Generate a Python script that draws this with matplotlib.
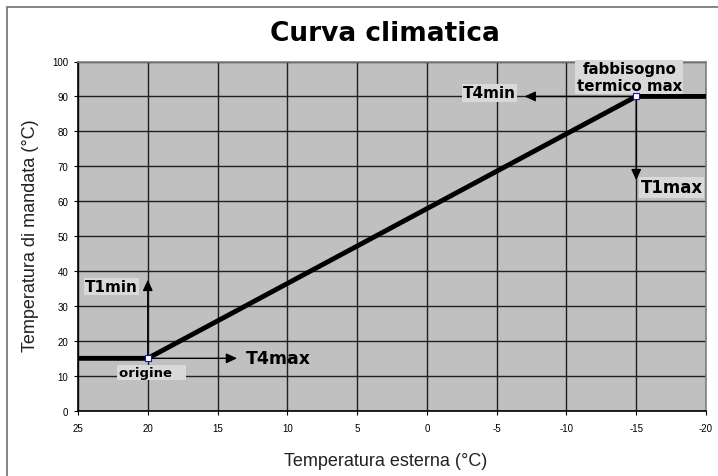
import matplotlib
matplotlib.use("Agg")
import matplotlib.pyplot as plt
from matplotlib.patches import Rectangle

# Climate curve: external temperature vs. supply temperature
curve_x = [25, 20, -15, -20]
curve_y = [15, 15, 90, 90]
corner_x = [20, -15]
corner_y = [15, 90]

# Reference arrows: (start_x, start_y, end_x, end_y)
arrow_t1min = (20, 15, 20, 37.5)
arrow_t4max = (20, 15, 13.6, 15)
arrow_t1max = (-15, 90, -15, 66)
arrow_t4min = (-15, 90, -7.0, 90)

x_ticks = [25, 20, 15, 10, 5, 0, -5, -10, -15, -20]
y_ticks = [0, 10, 20, 30, 40, 50, 60, 70, 80, 90, 100]

fig = plt.figure(figsize=(7.18, 4.77), dpi=100)
W, H = 718, 477

# outer frame
fig.patches.append(Rectangle((7 / W, -0.1), 1.2, (H - 8) / H + 0.1,
                             transform=fig.transFigure, fill=False,
                             edgecolor="#707070", linewidth=1.2))

ax = fig.add_axes([78 / W, (H - 411.7) / H, (706 - 78) / W, (411.7 - 62.5) / H])
ax.set_facecolor("#c0c0c0")
ax.set_xlim(25, -20)
ax.set_ylim(0, 100)
ax.set_xticks(x_ticks)
ax.set_yticks(y_ticks)
ax.set_xticklabels([str(v) for v in x_ticks], family="Liberation Sans")
ax.set_yticklabels([str(v) for v in y_ticks], family="Liberation Sans")
ax.tick_params(labelsize=7, length=3, width=0.8, pad=4, colors="black")
ax.tick_params(axis="x", pad=6)
ax.grid(True, color="#202020", linewidth=1.0)
ax.set_axisbelow(True)
for side in ("left", "bottom"):
    ax.spines[side].set_color("black")
    ax.spines[side].set_linewidth(1.2)
for side in ("right", "top"):
    ax.spines[side].set_color("#808080")
    ax.spines[side].set_linewidth(1.2)

ax.plot(curve_x, curve_y, color="black", linewidth=3.5, solid_capstyle="butt", zorder=4)
ax.plot(corner_x, corner_y, linestyle="none", marker="s", markersize=4,
        markerfacecolor="white", markeredgecolor="#1a1aa0", markeredgewidth=0.8, zorder=7)

for (x0, y0, x1, y1) in (arrow_t1min, arrow_t4max, arrow_t1max, arrow_t4min):
    ax.annotate("", xy=(x1, y1), xytext=(x0, y0),
                arrowprops=dict(arrowstyle="-|>,head_length=0.65,head_width=0.3",
                                color="black", linewidth=1.0, shrinkA=0, shrinkB=0),
                zorder=3)

box = dict(boxstyle="square,pad=0.08", facecolor="#d9d9d9", edgecolor="none")
lab = dict(fontweight="bold", color="black", zorder=6, family="DejaVu Sans")

ax.text(22.6, 35.6, "T1min", fontsize=11, ha="center", va="center", bbox=box, **lab)
ax.text(13.0, 15, "T4max", fontsize=12.5, ha="left", va="center", **lab)
ax.text(19.7, 11, "origine   ", fontsize=9.5, ha="center", va="center", bbox=box, **lab)
ax.text(-4.5, 91.0, "T4min", fontsize=11, ha="center", va="center", bbox=box, **lab)
ax.text(-14.5, 95.6, "fabbisogno\ntermico max", fontsize=10.8, ha="center", va="center",
        linespacing=1.15, bbox=box, **lab)
ax.text(-15.3, 64, "T1max", fontsize=12, ha="left", va="center", bbox=box, **lab)

fig.text(385 / W, 1 - 34 / H, "Curva climatica", ha="center", va="center",
         fontsize=19, fontweight="bold", family="DejaVu Sans")
fig.text(386 / W, 1 - 462 / H, "Temperatura esterna (°C)", ha="center", va="center",
         fontsize=13, color="#222222", family="Liberation Sans")
fig.text(31 / W, 1 - 236 / H, "Temperatura di mandata (°C)", ha="center", va="center",
         rotation=90, fontsize=13, color="#222222", family="Liberation Sans")

fig.savefig("out.png", dpi=100)
